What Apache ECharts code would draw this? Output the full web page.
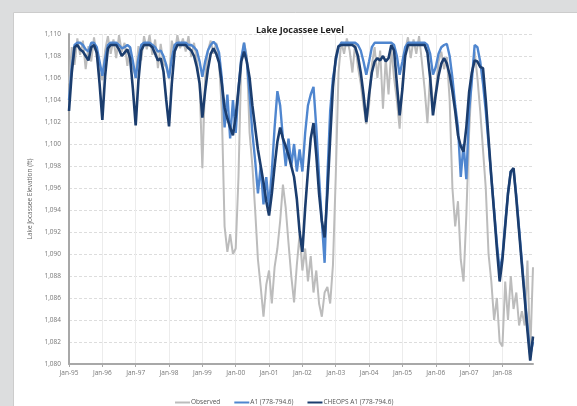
<!DOCTYPE html>
<html lang="en">
<head>
    <meta charset="UTF-8">
    <title>Lake Jocassee Level</title>
    <script src="https://cdn.jsdelivr.net/npm/echarts@6/dist/echarts.min.js"></script>
    <style>
        html, body { margin: 0; padding: 0; background: #dcddde; }
        #chart { width: 577px; height: 406px; }
    </style>
</head>
<body>
    <div id="chart"></div>
    <script>
        // monthly values, Jan-95 .. Dec-08 (one row per year)
        const yearLabels = ['95', '96', '97', '98', '99', '00', '01', '02', '03', '04', '05', '06', '07', '08'];
        const monthNames = ['Jan', 'Feb', 'Mar', 'Apr', 'May', 'Jun', 'Jul', 'Aug', 'Sep', 'Oct', 'Nov', 'Dec'];

        const observed = [
            1105.5, 1108.8, 1107.2, 1109.6, 1108.1, 1109.4, 1106.8, 1108.9, 1107.5, 1109.7, 1107.9, 1106.5,
            1105.8, 1108.5, 1109.8, 1108.2, 1109.5, 1107.8, 1109.9, 1108.4, 1109.2, 1107.1, 1108.8, 1106.9,
            1106.2, 1108.9, 1107.6, 1109.8, 1108.6, 1109.9, 1108.1, 1109.5, 1106.9, 1109.1, 1107.3, 1107.0,
            1105.9, 1109.4, 1108.2, 1109.9, 1108.7, 1109.6, 1108.4, 1109.8, 1107.9, 1109.2, 1107.6, 1105.5,
            1097.8, 1106.0, 1108.5, 1109.4, 1108.2, 1109.2, 1107.5, 1103.0, 1092.5, 1090.2, 1091.8, 1090.0,
            1090.5, 1097.0, 1107.5, 1109.2, 1108.0, 1101.0, 1098.0, 1094.0, 1089.5, 1087.0, 1084.3, 1087.2,
            1088.5, 1085.5, 1088.8, 1090.5, 1093.0, 1096.3, 1094.2, 1091.0, 1088.0, 1085.6, 1089.0, 1091.8,
            1088.5, 1090.5, 1087.5, 1089.8, 1086.5, 1088.5, 1085.5, 1084.3, 1086.5, 1087.0, 1085.5, 1089.0,
            1097.0, 1106.5, 1109.3, 1108.2, 1109.6, 1108.5, 1106.5, 1109.2, 1107.0, 1105.5, 1103.5, 1101.8,
            1103.5, 1107.2, 1108.8, 1106.0, 1108.5, 1103.2, 1107.8, 1104.5, 1108.7, 1106.0, 1104.0, 1101.4,
            1105.5, 1108.6, 1109.7, 1107.8, 1109.5, 1108.2, 1109.8, 1107.5, 1105.0, 1101.9, 1106.5, 1103.5,
            1104.8, 1107.5, 1108.4, 1106.8, 1107.9, 1104.0, 1096.0, 1092.5, 1094.8, 1089.5, 1087.5, 1093.5,
            1101.0, 1106.2, 1108.4, 1106.0, 1103.0, 1099.5, 1096.0, 1090.0, 1087.5, 1084.0, 1086.0, 1082.0,
            1081.6, 1087.5, 1084.0, 1088.0, 1085.0, 1086.5, 1083.5, 1084.8, 1083.5, 1089.4, 1080.9, 1088.8
        ];

        const a1 = [
            1104.0, 1107.0, 1109.0, 1109.2, 1109.2, 1109.0, 1108.6, 1108.4, 1109.2, 1109.2, 1108.8, 1107.5,
            1106.2, 1107.8, 1109.0, 1109.2, 1109.2, 1109.2, 1109.0, 1108.7, 1108.8, 1109.0, 1108.8, 1107.5,
            1106.0, 1107.8, 1109.0, 1109.2, 1109.2, 1109.2, 1109.0, 1108.8, 1108.4, 1108.5, 1108.0, 1107.2,
            1106.0, 1107.8, 1109.0, 1109.2, 1109.2, 1109.2, 1109.2, 1109.0, 1109.0, 1108.8, 1108.5, 1107.5,
            1106.1, 1107.5, 1108.5, 1109.0, 1109.3, 1109.0, 1108.3, 1106.0, 1101.5, 1104.5, 1100.5, 1104.0,
            1101.0, 1105.0, 1107.8, 1109.2, 1107.5, 1104.5, 1101.0, 1098.5, 1095.5, 1098.0, 1094.5, 1097.0,
            1094.3, 1097.5, 1101.5, 1104.8, 1103.5, 1100.5, 1098.0, 1100.5, 1098.0, 1100.0, 1097.5, 1099.5,
            1097.5, 1101.0, 1103.5, 1104.5, 1105.2, 1101.5, 1097.0, 1093.0, 1089.2, 1097.0, 1103.0, 1106.0,
            1107.5, 1108.8, 1109.2, 1109.2, 1109.2, 1109.2, 1109.2, 1109.2, 1109.0, 1108.5, 1107.5, 1106.3,
            1107.5, 1108.8, 1109.2, 1109.2, 1109.2, 1109.2, 1109.2, 1109.2, 1109.2, 1109.0, 1108.0, 1106.3,
            1107.5, 1108.8, 1109.2, 1109.2, 1109.2, 1109.2, 1109.2, 1109.2, 1109.2, 1109.0, 1108.2, 1106.3,
            1107.0, 1108.2, 1108.8, 1109.0, 1109.1, 1108.0, 1106.0, 1103.5, 1101.5, 1097.0, 1100.0, 1096.8,
            1103.0, 1105.8, 1109.0, 1108.8, 1107.5, 1105.5, 1103.0, 1100.0, 1097.0, 1094.0, 1091.0, 1088.5,
            1089.8, 1092.8, 1095.5, 1097.5, 1097.6, 1095.3, 1092.3, 1089.3, 1086.3, 1083.5, 1080.8, 1082.0
        ];

        const cheops = [
            1103.0, 1106.5, 1108.8, 1109.0, 1108.6, 1108.4, 1108.0, 1107.6, 1108.8, 1109.0, 1108.3, 1105.5,
            1102.2, 1106.2, 1108.7, 1109.0, 1109.0, 1109.0, 1108.6, 1108.0, 1108.3, 1108.6, 1107.8, 1105.0,
            1101.7, 1105.8, 1108.5, 1109.0, 1109.0, 1109.0, 1108.8, 1108.2, 1107.6, 1107.8, 1106.6, 1104.0,
            1101.6, 1105.5, 1108.4, 1109.0, 1109.0, 1109.0, 1109.0, 1108.7, 1108.5, 1108.0, 1107.0, 1105.5,
            1102.4, 1104.8, 1106.8, 1108.2, 1108.7, 1108.2, 1107.4, 1105.5, 1103.3, 1102.3, 1101.5, 1100.8,
            1102.5, 1105.0, 1107.5, 1108.4, 1107.5, 1106.0, 1103.5, 1101.5, 1099.5, 1098.0, 1096.5, 1094.8,
            1093.5, 1095.5, 1098.0, 1100.2, 1101.5, 1100.5, 1099.8, 1099.0, 1098.0, 1097.0, 1095.0, 1092.0,
            1090.2, 1094.2, 1097.5, 1100.5, 1101.9, 1099.0, 1095.5, 1093.0, 1091.5, 1095.5, 1100.5, 1105.2,
            1107.8, 1108.9, 1109.0, 1109.0, 1109.0, 1109.0, 1109.0, 1108.8, 1108.0, 1106.5, 1104.5, 1102.0,
            1104.5, 1106.5, 1107.5, 1107.8, 1107.6, 1108.0, 1107.5, 1107.8, 1109.0, 1108.5, 1105.5, 1102.6,
            1105.0, 1108.0, 1109.0, 1109.0, 1109.0, 1109.0, 1109.0, 1109.0, 1109.0, 1108.3, 1106.0, 1102.6,
            1104.5, 1106.2, 1107.3, 1107.8, 1107.3, 1106.3, 1104.8, 1103.0, 1100.8, 1099.8, 1099.3, 1101.5,
            1104.7, 1106.5, 1107.6, 1107.5, 1107.0, 1106.9, 1104.0, 1100.5, 1097.0, 1093.8, 1090.5, 1087.5,
            1089.5, 1092.5, 1095.5, 1097.5, 1097.8, 1095.0, 1092.0, 1089.0, 1086.0, 1083.0, 1080.3, 1082.5
        ];

        const months = [];
        yearLabels.forEach(y => monthNames.forEach(m => months.push(m + '-' + y)));

        const chart = echarts.init(document.getElementById('chart'));
        const labelFont = { fontFamily: 'Open Sans', fontSize: 6.5, color: '#777' };

        chart.setOption({
            backgroundColor: 'transparent',
            animation: false,
            graphic: [{
                type: 'rect',
                z: -10,
                shape: { x: 13.5, y: 12.5, width: 580, height: 400 },
                style: { fill: '#ffffff', stroke: '#cccccc', lineWidth: 1 }
            }],
            title: {
                text: 'Lake Jocassee Level',
                left: 251,
                top: 21,
                textStyle: { fontFamily: 'Open Sans', fontSize: 9, fontWeight: 'bold', color: '#222' }
            },
            legend: {
                data: ['Observed', 'A1 (778-794.6)', 'CHEOPS A1 (778-794.6)'],
                left: 170,
                top: 394,
                icon: 'rect',
                itemWidth: 15,
                itemHeight: 2,
                itemGap: 14,
                textStyle: { fontFamily: 'Open Sans', fontSize: 6.5, color: '#555', padding: [0, 0, 0, -4] }
            },
            grid: { left: 69, right: 44, top: 34, bottom: 42 },
            xAxis: {
                type: 'category',
                data: months,
                boundaryGap: false,
                axisLine: { lineStyle: { color: '#a8a8a8', width: 2 } },
                axisTick: { interval: 11, length: 3, lineStyle: { color: '#a8a8a8' } },
                axisLabel: Object.assign({ interval: 11, margin: 6 }, labelFont),
                splitLine: { show: true, interval: 11, lineStyle: { color: '#ececec', width: 1 } }
            },
            yAxis: {
                type: 'value',
                min: 1080,
                max: 1110,
                interval: 2,
                name: 'Lake Jocassee Elevation (ft)',
                nameLocation: 'middle',
                nameGap: 33,
                nameTextStyle: { fontFamily: 'Open Sans', fontSize: 6.5, color: '#666' },
                axisLine: { show: true, lineStyle: { color: '#a8a8a8', width: 2 } },
                axisTick: { show: false },
                axisLabel: Object.assign({
                    margin: 8,
                    formatter: v => v.toLocaleString('en-US')
                }, labelFont),
                splitLine: { lineStyle: { color: '#dddddd', type: [3, 2] } }
            },
            series: [
                {
                    name: 'Observed',
                    type: 'line',
                    data: observed,
                    showSymbol: false,
                    color: '#bcbcbc',
                    lineStyle: { width: 2 }
                },
                {
                    name: 'A1 (778-794.6)',
                    type: 'line',
                    data: a1,
                    showSymbol: false,
                    color: '#4f86cf',
                    lineStyle: { width: 2.4 }
                },
                {
                    name: 'CHEOPS A1 (778-794.6)',
                    type: 'line',
                    data: cheops,
                    showSymbol: false,
                    color: '#1b3d6e',
                    lineStyle: { width: 2.6 }
                }
            ]
        });
    </script>
</body>
</html>
